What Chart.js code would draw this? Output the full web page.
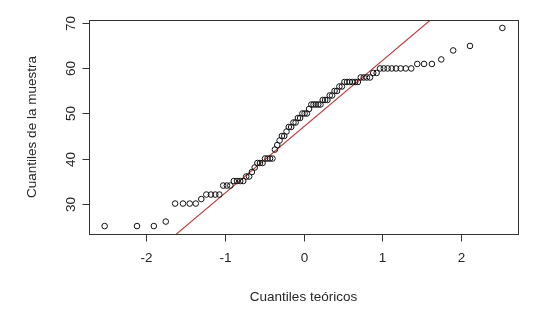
<!DOCTYPE html>
<html>
<head>
<meta charset="utf-8">
<script src="https://cdn.jsdelivr.net/npm/chart.js@4"></script>
<style>
  html, body { margin: 0; padding: 0; background: #ffffff; }
  #wrap { width: 549px; height: 311px; }
</style>
</head>
<body>
<div id="wrap"><canvas id="c" width="549" height="311"></canvas></div>
<script>
// Theoretical normal quantiles (x) read for n = 88
const theoreticalQuantiles = [
  -2.531,-2.119,-1.905,-1.753,-1.634,-1.534,-1.448,-1.371,-1.301,-1.237,-1.178,-1.123,-1.071,-1.022,-0.975,-0.931,-0.887,-0.846,-0.806,-0.767,-0.729,-0.692,-0.657,-0.621,-0.587,-0.554,-0.521,-0.489,-0.457,-0.426,-0.395,-0.364,-0.334,-0.304,-0.275,-0.245,-0.216,-0.187,-0.157,-0.128,-0.100,-0.071,-0.043,-0.014,
  0.014,0.043,0.071,0.100,0.128,0.157,0.187,0.216,0.245,0.275,0.304,0.334,0.364,0.395,0.426,0.457,0.489,0.521,0.554,0.587,0.621,0.657,0.692,0.729,0.767,0.806,0.846,0.887,0.931,0.975,1.022,1.071,1.123,1.178,1.237,1.301,1.371,1.448,1.534,1.634,1.753,1.905,2.119,2.531
];
// Sorted sample values (y)
const sampleQuantiles = [
  25,25,25,26,30,30,30,30,31,32,32,32,32,34,34,34,35,35,35,35,36,36,37,38,39,39,39,40,40,40,40,
  42,43,44,45,45,46,47,47,48,48,49,49,50,50,50,51,52,52,52,52,52,53,53,53,54,54,55,55,56,56,
  57,57,57,57,57,57,58,58,58,58,59,59,60,60,60,60,60,60,60,60,61,61,61,62,64,65,69
];
// Reference line (qqline)
const qqlineIntercept = 47.0;
const qqlineSlope = 14.7;
// Axis ranges and tick labels
const xRange = [-2.73, 2.73];
const yRange = [23.24, 70.76];
const xTicks = [-2, -1, 0, 1, 2];
const yTicks = [30, 40, 50, 60, 70];
const xTitle = "Cuantiles teóricos";
const yTitle = "Cuantiles de la muestra";

const points = theoreticalQuantiles.map((x, i) => ({ x: x, y: sampleQuantiles[i] }));
const linePts = xRange.map(x => ({ x: x, y: qqlineIntercept + qqlineSlope * x }));

const FONT = '13.5px "Liberation Sans", Arial, sans-serif';
const AXIS_COLOR = '#333333';

const rAxes = {
  id: 'rAxes',
  afterDraw(chart) {
    const ctx = chart.ctx;
    const a = chart.chartArea;
    const xs = chart.scales.x, ys = chart.scales.y;
    ctx.save();
    ctx.strokeStyle = AXIS_COLOR;
    ctx.lineWidth = 1;
    ctx.strokeRect(Math.round(a.left) + 0.5, Math.round(a.top) + 0.5,
                   Math.round(a.right - a.left), Math.round(a.bottom - a.top));
    ctx.fillStyle = '#262626';
    ctx.font = FONT;
    ctx.textAlign = 'center';
    ctx.textBaseline = 'middle';
    xTicks.forEach(v => {
      const px = Math.round(xs.getPixelForValue(v)) + 0.5;
      ctx.beginPath();
      ctx.moveTo(px, Math.round(a.bottom) + 0.5);
      ctx.lineTo(px, Math.round(a.bottom) + 7.5);
      ctx.stroke();
      ctx.fillText(String(v), px, a.bottom + 24);
    });
    yTicks.forEach(v => {
      const py = Math.round(ys.getPixelForValue(v)) + 0.5;
      ctx.beginPath();
      ctx.moveTo(Math.round(a.left) + 0.5, py);
      ctx.lineTo(Math.round(a.left) - 6.5, py);
      ctx.stroke();
      ctx.save();
      ctx.translate(a.left - 18, py);
      ctx.rotate(-Math.PI / 2);
      ctx.fillText(String(v), 0, 0);
      ctx.restore();
    });
    ctx.fillText(xTitle, (a.left + a.right) / 2, a.bottom + 63);
    ctx.save();
    ctx.translate(a.left - 57, (a.top + a.bottom) / 2);
    ctx.rotate(-Math.PI / 2);
    ctx.fillText(yTitle, 0, 0);
    ctx.restore();
    ctx.restore();
  }
};

new Chart(document.getElementById('c'), {
  type: 'scatter',
  data: {
    datasets: [
      {
        type: 'line',
        data: linePts,
        borderColor: 'rgb(185,55,55)',
        borderWidth: 1.1,
        pointRadius: 0,
        fill: false,
        tension: 0,
        order: 2
      },
      {
        data: points,
        pointStyle: 'circle',
        pointRadius: 2.8,
        pointBorderWidth: 1,
        pointBorderColor: '#111111',
        pointBackgroundColor: 'rgba(0,0,0,0)',
        order: 1
      }
    ]
  },
  options: {
    responsive: false,
    animation: false,
    devicePixelRatio: 1,
    layout: { padding: { left: 89, right: 31, top: 20, bottom: 77 } },
    plugins: { legend: { display: false }, tooltip: { enabled: false } },
    scales: {
      x: { type: 'linear', min: xRange[0], max: xRange[1], display: false },
      y: { type: 'linear', min: yRange[0], max: yRange[1], display: false }
    }
  },
  plugins: [rAxes]
});
</script>
</body>
</html>
